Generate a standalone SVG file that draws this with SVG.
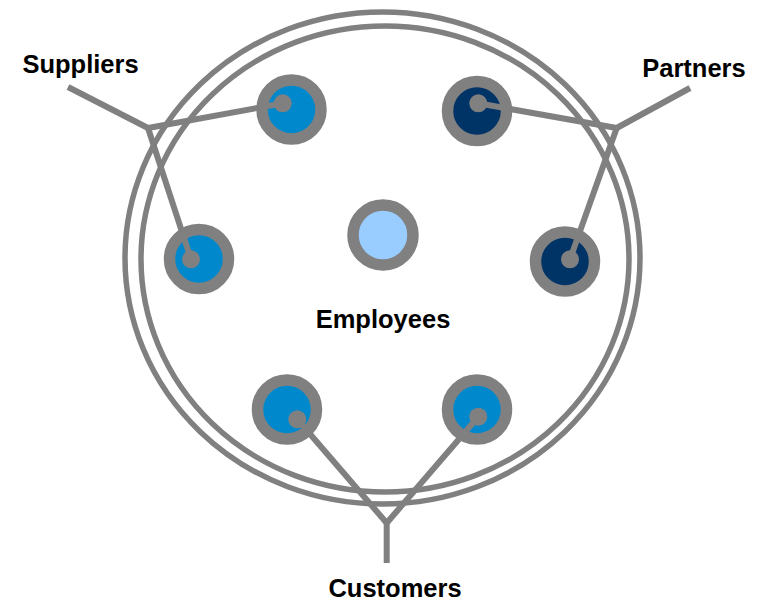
<svg xmlns="http://www.w3.org/2000/svg" width="761" height="602" viewBox="0 0 761 602">
<style>
.ring{fill:none;stroke:#808080;stroke-width:5.5}
.node{stroke:#808080;stroke-width:11.5}
.blue{fill:#0088CC}
.navy{fill:#003366}
.light{fill:#99CCFF}
.dot{fill:#808080}
.conn{stroke:#808080;stroke-width:6;fill:none}
.lbl{font-family:"Liberation Sans",Arial,sans-serif;font-weight:bold;font-size:25.5px;fill:#000;text-anchor:middle}
</style>
<rect width="761" height="602" fill="#fff"/>
<g id="boundary">
<ellipse class="ring" cx="382.5" cy="258" rx="257.5" ry="246"/>
<ellipse class="ring" cx="385" cy="259" rx="244" ry="233"/>
</g>
<g id="employees">
<circle class="node light" cx="383" cy="235" r="30"/>
<text class="lbl" x="383" y="328">Employees</text>
</g>
<g id="supplier-1"><circle class="node blue" cx="291.5" cy="109.5" r="29.5"/></g>
<g id="supplier-2"><circle class="node blue" cx="199" cy="259" r="29.5"/></g>
<g id="partner-1"><circle class="node navy" cx="477" cy="111" r="29.5"/></g>
<g id="partner-2"><circle class="node navy" cx="565" cy="261.5" r="29.5"/></g>
<g id="customer-1"><circle class="node blue" cx="287" cy="409.5" r="29.5"/></g>
<g id="customer-2"><circle class="node blue" cx="477" cy="409.5" r="29.5"/></g>
<g id="connectors">
<line class="conn" x1="68" y1="87" x2="148" y2="128"/>
<line class="conn" x1="148" y1="128" x2="282.7" y2="103.3"/>
<line class="conn" x1="148" y1="128" x2="191" y2="259.3"/>
<line class="conn" x1="690" y1="88" x2="616.7" y2="128"/>
<line class="conn" x1="616.7" y1="128" x2="478.3" y2="103.3"/>
<line class="conn" x1="616.7" y1="128" x2="570" y2="259.3"/>
<line class="conn" x1="386.7" y1="563" x2="386.7" y2="523"/>
<line class="conn" x1="386.7" y1="523" x2="297.3" y2="419.3"/>
<line class="conn" x1="386.7" y1="523" x2="478.3" y2="416.7"/>
<circle class="dot" cx="282.7" cy="103.3" r="9"/>
<circle class="dot" cx="191" cy="259.3" r="9"/>
<circle class="dot" cx="478.3" cy="103.3" r="9"/>
<circle class="dot" cx="570" cy="259.3" r="9"/>
<circle class="dot" cx="297.3" cy="419.3" r="9"/>
<circle class="dot" cx="478.3" cy="416.7" r="9"/>
</g>
<g id="labels">
<text class="lbl" x="80.5" y="73">Suppliers</text>
<text class="lbl" x="694" y="77">Partners</text>
<text class="lbl" x="395" y="597">Customers</text>
</g>
</svg>
